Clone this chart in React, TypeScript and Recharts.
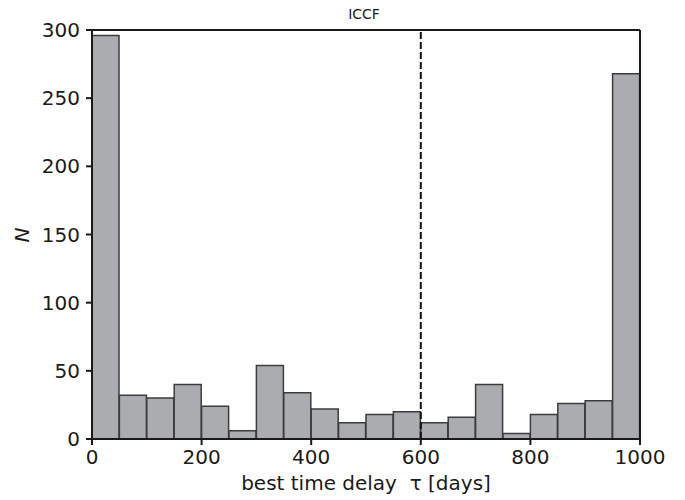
import { BarChart, Bar, XAxis, YAxis, ReferenceLine, Label } from 'recharts';

// histogram of best time delays, 20 bins of 50 days
const binStarts = [0, 50, 100, 150, 200, 250, 300, 350, 400, 450, 500, 550, 600, 650, 700, 750, 800, 850, 900, 950];
const counts = [296, 32, 30, 40, 24, 6, 54, 34, 22, 12, 18, 20, 12, 16, 40, 4, 18, 26, 28, 268];
const xTicks = [0, 200, 400, 600, 800, 1000];
const yTicks = [0, 50, 100, 150, 200, 250, 300];

const data = binStarts.map((s, i) => ({ bin: String(s), mid: s + 25, n: counts[i] }));

const FONT = 'DejaVu Sans, sans-serif';
const tickStyle = { fontSize: 20, fill: '#1a1a1a', fontFamily: FONT };

export default function App() {
  return (
    <div style={{ position: 'absolute', left: 0, top: 0, background: '#fff' }}>
      <BarChart
        width={685}
        height={500}
        data={data}
        margin={{ top: 30, right: 45, bottom: 11, left: 32 }}
        barCategoryGap={0}
        barGap={0}
      >
        <text x={364} y={19} textAnchor="middle" fontSize={14} fontFamily={FONT} fill="#1a1a1a">
          ICCF
        </text>
        <XAxis xAxisId="num"
          dataKey="mid"
          type="number"
          domain={[0, 1000]}
          ticks={xTicks}
          allowDataOverflow
          height={50}
          tick={tickStyle}
          tickSize={6}
          tickMargin={5}
          axisLine={{ stroke: '#1a1a1a', strokeWidth: 2 }}
          tickLine={{ stroke: '#1a1a1a', strokeWidth: 2 }}
        >
          <Label
            content={(props: any) => {
              const vb = props.viewBox;
              return (
                <text
                  x={vb.x + vb.width / 2}
                  y={490}
                  textAnchor="middle"
                  fontSize={20}
                  fontFamily={FONT}
                  fill="#1a1a1a"
                >
                  best time delay{'\u00a0\u00a0'}τ [days]
                </text>
              );
            }}
          />
        </XAxis>
        <XAxis xAxisId="cat" dataKey="bin" type="category" hide height={0} />
        <YAxis
          type="number"
          domain={[0, 300]}
          ticks={yTicks}
          width={60}
          tick={tickStyle}
          tickSize={6}
          tickMargin={6}
          axisLine={{ stroke: '#1a1a1a', strokeWidth: 2 }}
          tickLine={{ stroke: '#1a1a1a', strokeWidth: 2 }}
        >
          <Label
            content={() => (
              <text
                x={0}
                y={0}
                transform="translate(29, 235) rotate(-90)"
                textAnchor="middle"
                fontSize={20}
                fontStyle="italic"
                fontFamily={FONT}
                fill="#1a1a1a"
              >
                N
              </text>
            )}
          />
        </YAxis>
        <Bar
          xAxisId="cat"
          dataKey="n"
          fill="#abacb0"
          stroke="#3c3c3c"
          strokeWidth={1.5}
          isAnimationActive={false}
        />
        <ReferenceLine
          xAxisId="num"
          x={600}
          stroke="#111"
          strokeWidth={2}
          strokeDasharray="7 3"
        />
        {/* top and right spines */}
        <ReferenceLine xAxisId="num" y={300} stroke="#1a1a1a" strokeWidth={2} ifOverflow="visible" />
        <ReferenceLine xAxisId="num" x={1000} stroke="#1a1a1a" strokeWidth={2} ifOverflow="visible" />
      </BarChart>
    </div>
  );
}
